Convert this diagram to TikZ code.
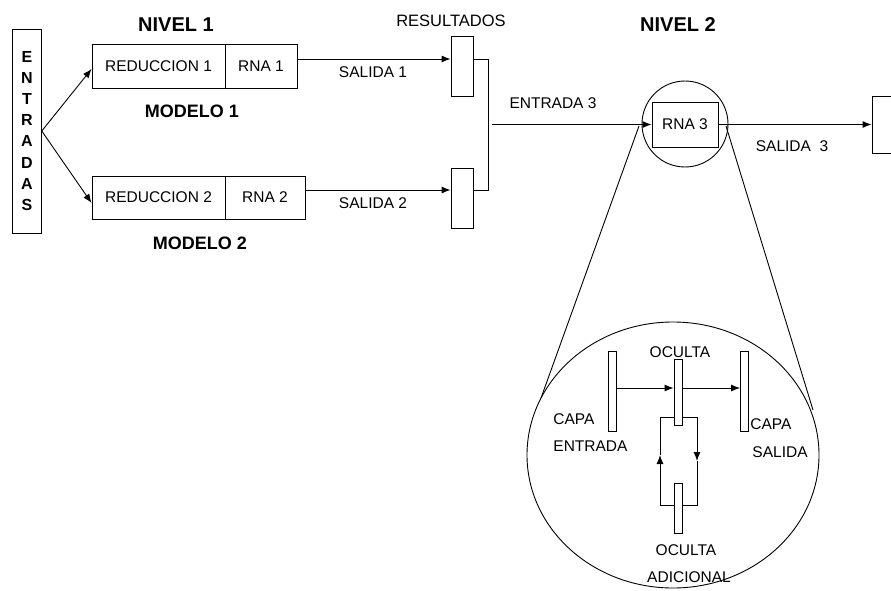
\documentclass[tikz,border=0pt]{standalone}
\usepackage{fontspec}
\setmainfont{Liberation Sans}
\usetikzlibrary{arrows.meta,calc,shapes.geometric}
\begin{document}
\begin{tikzpicture}[x=1pt,y=-1pt,line width=0.9pt,
  arr/.style={-{Latex[length=9pt,width=7pt]}},
  lbl/.style={inner sep=0pt,font=\fontsize{15.5}{18}\selectfont},
  blbl/.style={inner sep=0pt,font=\bfseries\fontsize{18}{20}\selectfont},
  hlbl/.style={inner sep=0pt,font=\bfseries\fontsize{20}{22}\selectfont},
  cell/.style={draw,inner sep=0pt,font=\fontsize{15.5}{18}\selectfont},
  bar/.style={draw,fill=white,inner sep=0pt,minimum width=8pt}]
\useasboundingbox (0,0) rectangle (891,591);

% inputs
\node[draw,inner sep=0pt,minimum width=28.6pt,minimum height=204pt,align=center,
  font=\bfseries\fontsize{16}{21.1}\selectfont] (ent) at (27,131)
  {E\\N\\T\\R\\A\\D\\A\\S};

% level 1
\node[hlbl] (niv1) at (176,25) {NIVEL 1};
\node[cell,minimum width=133pt,minimum height=44pt] (red1) at (158.5,66) {REDUCCION 1};
\node[cell,minimum width=72pt,minimum height=44pt] (rna1) at (261,66) {RNA 1};
\node[blbl] (mod1) at (192,111) {MODELO 1};
\node[cell,minimum width=133pt,minimum height=43pt] (red2) at (158.5,197.5) {REDUCCION 2};
\node[cell,minimum width=80pt,minimum height=43pt] (rna2) at (265,197.5) {RNA 2};
\node[blbl] (mod2) at (200,243) {MODELO 2};

\coordinate (fan) at (ent.east);
\draw[arr] (fan) -- ($(red1.west)+(0,3)$);
\draw[arr] (fan) -- ($(red2.west)+(0,5.5)$);

% results
\node[lbl,font=\fontsize{16.5}{18}\selectfont] (resl) at (451,21) {RESULTADOS};
\node[draw,inner sep=0pt,minimum width=22pt,minimum height=60pt] (res1) at (462,66) {};
\node[draw,inner sep=0pt,minimum width=22pt,minimum height=60pt] (res2) at (462,198) {};
\coordinate (y59) at (0,59);
\coordinate (y190) at (0,190);
\draw[arr] (rna1.east |- y59) -- (res1.west |- y59);
\draw[arr] (rna2.east |- y190) -- (res2.west |- y190);
\node[lbl] (sal1) at (373,72) {SALIDA 1};
\node[lbl] (sal2) at (373,203) {SALIDA 2};
\draw (res1.east |- y59) -- ++(15,0) |- (res2.east |- y190);

% level 2
\node[hlbl] (niv2) at (678,25) {NIVEL 2};
\node[cell,minimum width=66pt,minimum height=45pt] (rna3) at (685,124.5) {RNA 3};
\node[draw,circle,inner sep=0pt,minimum size=86pt] (zc) at (685,124) {};
\coordinate (e3) at (492,124.5);
\draw[arr] (e3) -- (rna3.west);
\node[lbl] (ent3) at (553,103) {ENTRADA 3};
\node[draw,inner sep=0pt,minimum width=30pt,minimum height=57pt] (out) at (887,124.5) {};
\draw[arr] (rna3.east) -- (out.west);
\node[lbl] (sal3) at (792,146) {SALIDA\ \ 3};

% zoom
\node[draw,ellipse,inner sep=0pt,minimum width=292pt,minimum height=266pt] (big) at (673,455) {};
\coordinate (zl1) at (639,126);
\coordinate (zl2) at (541,398);
\coordinate (zr1) at (726,126);
\coordinate (zr2) at (813,410);
\draw (zl1) -- (zl2);
\draw (zr1) -- (zr2);

% inner network
\node[bar,minimum height=80pt] (ce) at (612,391) {};
\node[bar,minimum height=66pt] (oc) at (678,392) {};
\node[bar,minimum height=80pt] (cs) at (744.5,391) {};
\node[bar,minimum height=50pt] (oa) at (678,508) {};
\coordinate (y388) at (0,388);
\coordinate (y417) at (0,417);
\coordinate (y505) at (0,505);
\draw[arr] (ce.east |- y388) -- (oc.west |- y388);
\draw[arr] (oc.east |- y388) -- (cs.west |- y388);
\coordinate (lp) at (660,455);
\coordinate (rp) at (697,461);
\draw[arr] (oa.west |- y505) -| (lp);
\draw (lp) |- (oc.west |- y417);
\draw[arr] (oc.east |- y417) -| (rp);
\draw (rp) |- (oa.east |- y505);

\node[lbl] (ocl) at (680,352) {OCULTA};
\node[lbl,anchor=west] (capa1) at (553,419) {CAPA};
\node[lbl,anchor=west] (entr) at (553,446) {ENTRADA};
\node[lbl,anchor=west] (capa2) at (750,424) {CAPA};
\node[lbl,anchor=west] (sali) at (752,452) {SALIDA};
\node[lbl] (oca) at (686,550) {OCULTA};
\node[lbl] (adic) at (689,577) {ADICIONAL};
\end{tikzpicture}
\end{document}
